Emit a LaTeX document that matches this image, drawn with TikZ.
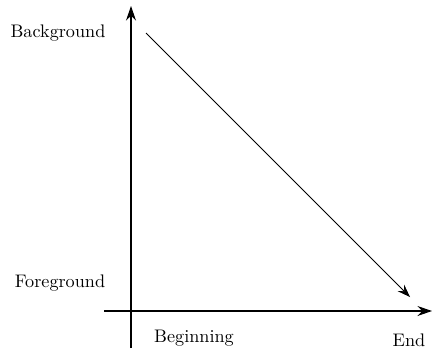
\documentclass[tikz,border=0pt]{standalone}
\usetikzlibrary{arrows.meta}
\begin{document}
\begin{tikzpicture}[x=0.55pt,y=-0.55pt]
\useasboundingbox (0,0) rectangle (432,351);
\coordinate (ybot) at (131,348);
\coordinate (ytop) at (131,6);
\coordinate (xleft) at (104,311);
\coordinate (xright) at (432,311);
\coordinate (start) at (146,33);
\coordinate (stop) at (410,297);
\draw[-{Stealth[length=8pt,width=5.5pt]}, semithick] (ybot) -- (ytop);
\draw[-{Stealth[length=8pt,width=5.5pt]}, semithick] (xleft) -- (xright);
\draw[-{Stealth[length=7pt,width=5pt]}] (start) -- (stop);
\node (bg) at (58,33) {Background};
\node (fg) at (60,283) {Foreground};
\node (begin) at (194,338) {Beginning};
\node (end) at (409,340) {End};
\end{tikzpicture}
\end{document}
